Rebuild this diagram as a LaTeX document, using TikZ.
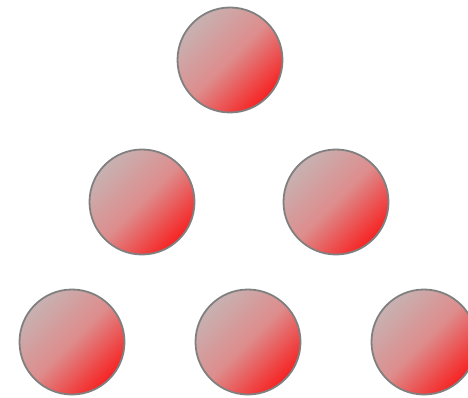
\documentclass[tikz,border=0pt]{standalone}
\definecolor{ballgray}{RGB}{192,190,190}
\definecolor{ballmid}{RGB}{222,140,140}
\pgfdeclareverticalshading{grayred}{100bp}{color(0bp)=(red); color(17bp)=(red); color(50bp)=(ballmid); color(83bp)=(ballgray); color(100bp)=(ballgray)}
\begin{document}
\begin{tikzpicture}[x=1pt,y=-1pt,
  ball/.style={circle, minimum size=105pt, inner sep=0pt, draw=black!50, line width=1.8pt,
    shading=grayred, shading angle=45}]
\useasboundingbox (0,0) rectangle (468,398);
\node[ball] (t)  at (230,60) {};
\node[ball] (ml) at (142,202) {};
\node[ball] (mr) at (336,202) {};
\node[ball] (bl) at (72,342) {};
\node[ball] (bm) at (248,342) {};
\node[ball] (br) at (424,342) {};
\end{tikzpicture}
\end{document}
